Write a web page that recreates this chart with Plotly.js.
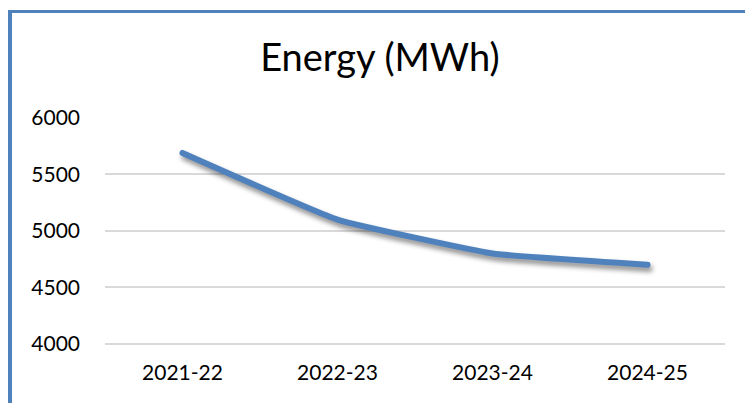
<!DOCTYPE html>
<html>
<head>
<meta charset="utf-8">
<script src="https://cdn.plot.ly/plotly-3.0.1.min.js"></script>
<style>
  html, body { margin: 0; padding: 0; background: #ffffff; }
  #wrap { position: relative; width: 745px; height: 403px; overflow: hidden; }
  #chart { position: absolute; left: 0; top: 0; width: 745px; height: 403px; }
  #frame { position: absolute; left: 8px; top: 10px; width: 737px; height: 393px;
           box-sizing: border-box; border-left: 4px solid #4f81bd; border-top: 3px solid #4f81bd;
           pointer-events: none; }
  .scatterlayer .js-line { filter: drop-shadow(2px 4px 2.5px rgba(0,0,0,0.45)); stroke-linecap: round; stroke-linejoin: round; }
</style>
</head>
<body>
<div id="wrap">
  <div id="chart"></div>
  <div id="frame"></div>
</div>
<script>
const years = ["2021-22", "2022-23", "2023-24", "2024-25"];
const energyMWh = [5690, 5100, 4800, 4700];
const yTicks = [4000, 4500, 5000, 5500, 6000];
const chartTitle = "Energy (MWh)";

const FONT = "Lato, 'Open Sans', sans-serif";

const trace = {
  x: years,
  y: energyMWh,
  type: "scatter",
  mode: "lines",
  line: { color: "#4f81bd", width: 6, shape: "spline", smoothing: 0.35 },
  hoverinfo: "x+y"
};

const layout = {
  width: 745,
  height: 403,
  paper_bgcolor: "rgba(0,0,0,0)",
  plot_bgcolor: "rgba(0,0,0,0)",
  margin: { l: 105, r: 20, t: 118, b: 57 },
  showlegend: false,
  title: {
    text: chartTitle,
    font: { family: FONT, size: 38, color: "#000000" },
    x: 0.51, xref: "container", xanchor: "center",
    y: 1 - 58 / 403, yref: "container", yanchor: "middle"
  },
  xaxis: {
    type: "category",
    range: [-0.5, 3.5],
    showgrid: false,
    zeroline: false,
    showline: false,
    ticks: "",
    ticklabelstandoff: 12,
    tickfont: { family: FONT, size: 21, color: "#000000" }
  },
  yaxis: {
    range: [3980, 6000],
    tickvals: yTicks,
    ticktext: yTicks.map(String),
    showgrid: true,
    gridcolor: "#d9d9d9",
    gridwidth: 2,
    zeroline: false,
    showline: false,
    ticks: "",
    ticklabelstandoff: 24,
    tickfont: { family: FONT, size: 21, color: "#000000" }
  }
};

Plotly.newPlot("chart", [trace], layout, { displayModeBar: false, staticPlot: true });
</script>
</body>
</html>
